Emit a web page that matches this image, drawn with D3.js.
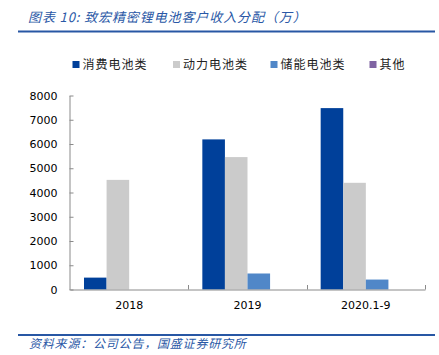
<!DOCTYPE html>
<html><head><meta charset="utf-8">
<script src="https://cdn.jsdelivr.net/npm/d3@7"></script>
<style>
html,body{margin:0;padding:0;background:#fff;}
svg{display:block;}
</style></head>
<body>
<svg id="c" width="439" height="355"></svg>
<script>
const categories = ["2018", "2019", "2020.1-9"];
const seriesNames = ["消费电池类", "动力电池类", "储能电池类", "其他"];
const consumer = [490, 6190, 7480];
const power = [4520, 5460, 4400];
const storage = [0, 660, 410];
const other = [0, 0, 0];
const yTicks = [0, 1000, 2000, 3000, 4000, 5000, 6000, 7000, 8000];
const colors = ["#00409a", "#cbcbcb", "#5087c8", "#8064a2"];
const titleText = "图表 10:  致宏精密锂电池客户收入分配（万）";
const sourceText = "资料来源：公司公告，国盛证券研究所";

const values = [consumer, power, storage, other];
const svg = d3.select("#c");
const blue = "#2857a4";

// title
svg.append("text").attr("x", 28).attr("y", 22)
  .attr("font-family", "Noto Sans CJK SC").attr("font-size", 13)
  .attr("letter-spacing", 0.9)
  .attr("font-style", "italic").attr("fill", "#2a58a6").text(titleText);
svg.append("line").attr("x1", 18).attr("x2", 435).attr("y1", 31.5).attr("y2", 31.5)
  .attr("stroke", blue).attr("stroke-width", 2);

// legend
const legX = [72.5, 173, 270.5, 369.5];
const leg = svg.append("g");
seriesNames.forEach((s, i) => {
  leg.append("rect").attr("x", legX[i]).attr("y", 61).attr("width", 7).attr("height", 7).attr("fill", colors[i]);
  leg.append("text").attr("x", legX[i] + 10).attr("y", 69)
    .attr("font-family", "Noto Sans CJK SC").attr("font-size", 12)
    .attr("letter-spacing", 1).attr("fill", "#222").text(s);
});

// scales
const x0 = d3.scaleBand().domain(categories).range([70, 425]).paddingInner(0).paddingOuter(0);
const x1 = d3.scaleBand().domain(seriesNames).range([0, x0.bandwidth()]).paddingInner(0).paddingOuter(0.62);
const y = d3.scaleLinear().domain([0, 8000]).range([289.5, 95.5]);

// bars
const g = svg.append("g");
categories.forEach((c, ci) => {
  seriesNames.forEach((s, si) => {
    const v = values[si][ci];
    if (v <= 0) return;
    g.append("rect").attr("x", x0(c) + x1(s)).attr("width", x1.bandwidth())
      .attr("y", y(v)).attr("height", y(0) - y(v)).attr("fill", colors[si]);
  });
});

// y axis
const ya = svg.append("g").attr("transform", "translate(69.5,0)")
  .call(d3.axisLeft(y).tickValues(yTicks).tickSizeInner(-4).tickSizeOuter(0).tickPadding(12).tickFormat(d3.format("d")));
ya.select(".domain").attr("stroke", "#8a8a8a");
ya.selectAll(".tick line").attr("stroke", "#8a8a8a");
ya.selectAll("text").attr("font-family", "DejaVu Sans").attr("font-size", 11).attr("fill", "#000");

// x axis
const xa = svg.append("g").attr("transform", "translate(0,289.5)")
  .call(d3.axisBottom(x0).tickSize(0).tickPadding(12));
xa.select(".domain").attr("stroke", "#8a8a8a");
xa.selectAll("text").attr("font-family", "DejaVu Sans").attr("font-size", 11).attr("fill", "#000");
const bounds = categories.map(c => x0(c)).concat([x0.range()[1]]);
svg.append("g").selectAll("line").data(bounds.slice(1)).join("line")
  .attr("x1", d => Math.round(d) + 0.5).attr("x2", d => Math.round(d) + 0.5)
  .attr("y1", 289.5).attr("y2", 285).attr("stroke", "#8a8a8a");

// source
svg.append("line").attr("x1", 18).attr("x2", 435).attr("y1", 335).attr("y2", 335)
  .attr("stroke", blue).attr("stroke-width", 2);
svg.append("text").attr("x", 29).attr("y", 348)
  .attr("font-family", "Noto Sans CJK SC").attr("font-size", 12)
  .attr("letter-spacing", 0.8)
  .attr("font-style", "italic").attr("fill", "#2a58a6").text(sourceText);
</script>
</body></html>
